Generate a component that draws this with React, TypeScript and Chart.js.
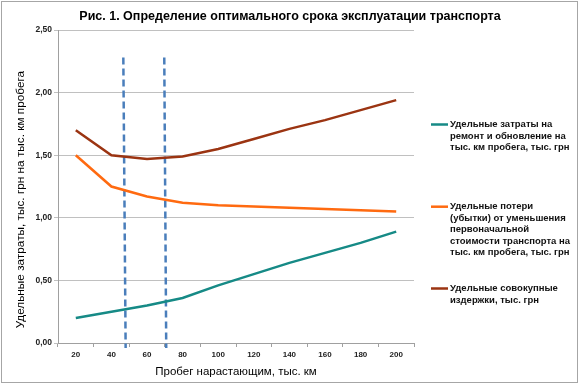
import React, { useEffect, useRef } from 'react';
import { Chart, registerables } from 'chart.js';

Chart.register(...registerables);

const categories = ['20', '40', '60', '80', '100', '120', '140', '160', '180', '200'];
const repairCost = [0.2, 0.25, 0.3, 0.36, 0.46, 0.55, 0.64, 0.72, 0.8, 0.89];
const valueLoss = [1.5, 1.25, 1.17, 1.12, 1.1, 1.09, 1.08, 1.07, 1.06, 1.05];
const totalCost = [1.7, 1.5, 1.47, 1.49, 1.55, 1.63, 1.71, 1.78, 1.86, 1.94];

const markerTopKm = [46.7, 69.7];
const markerBottomKm = [48.0, 70.8];
const markerTopValue = 2.28;
const markerBottomValue = -0.04;

const seriesLabels = [
  ['Удельные затраты на', 'ремонт и обновление на', 'тыс. км пробега, тыс. грн'],
  ['Удельные потери', '(убытки) от уменьшения', 'первоначальной', 'стоимости транспорта на', 'тыс. км пробега, тыс. грн'],
  ['Удельные совокупные', 'издержки, тыс. грн'],
];
const chartTitle = 'Рис. 1. Определение оптимального срока эксплуатации транспорта';
const xTitle = 'Пробег нарастающим, тыс. км';
const yTitle = 'Удельные затраты, тыс. грн на тыс. км пробега';

const seriesColors = ['#168a86', '#ff6a10', '#9b3412'];
const FONT = '"Liberation Sans", Arial, sans-serif';

const kmToIndex = (km: number) => (km - Number(categories[0])) / (Number(categories[1]) - Number(categories[0]));

const sideLegend = {
  id: 'sideLegend',
  afterDraw(chart: any) {
    const ctx = chart.ctx;
    const x0 = chart.chartArea.right + 17;
    const tops = [124.5, 206.7, 288.5];
    const lh = 11.4;
    ctx.save();
    ctx.font = `bold 9.5px ${FONT}`;
    ctx.textBaseline = 'middle';
    ctx.textAlign = 'left';
    ctx.fillStyle = '#111';
    for (let i = 0; i < seriesLabels.length; i++) {
      ctx.strokeStyle = seriesColors[i];
      ctx.lineWidth = 2.5;
      ctx.beginPath();
      ctx.moveTo(x0, tops[i]);
      ctx.lineTo(x0 + 17, tops[i]);
      ctx.stroke();
      seriesLabels[i].forEach((t, j) => ctx.fillText(t, x0 + 19, tops[i] + j * lh));
    }
    ctx.restore();
  },
};

export default function App() {
  const ref = useRef<HTMLCanvasElement>(null);
  useEffect(() => {
    if (!ref.current) return;
    const lineData = [repairCost, valueLoss, totalCost];
    const datasets: any[] = lineData.map((d, i) => ({
      type: 'line',
      label: seriesLabels[i].join(' '),
      data: d,
      borderColor: seriesColors[i],
      backgroundColor: seriesColors[i],
      borderWidth: 2.5,
      pointRadius: 0,
      tension: 0,
      xAxisID: 'x',
      yAxisID: 'y',
    }));
    markerTopKm.forEach((km, i) => {
      datasets.push({
        type: 'line',
        label: 'marker' + i,
        data: [
          { x: kmToIndex(km), y: markerTopValue },
          { x: kmToIndex(markerBottomKm[i]), y: markerBottomValue },
        ],
        borderColor: '#4a7ebb',
        borderWidth: 2.5,
        borderDash: [7, 4],
        pointRadius: 0,
        clip: false,
        xAxisID: 'xm',
        yAxisID: 'y',
      });
    });
    const chart = new Chart(ref.current, {
      type: 'line',
      data: { labels: categories, datasets },
      options: {
        animation: false,
        responsive: false,
        maintainAspectRatio: false,
        layout: { padding: 0 },
        plugins: {
          legend: { display: false },
          tooltip: { enabled: false },
          title: {
            display: true,
            text: chartTitle,
            color: '#000',
            font: { family: FONT, size: 12.5, weight: 'bold' },
            padding: { top: 9, bottom: 6 },
          },
        },
        scales: {
          x: {
            type: 'category',
            offset: true,
            grid: { offset: true, drawOnChartArea: false, tickLength: 4, color: '#a0a0a0' },
            border: { color: '#a0a0a0' },
            ticks: { font: { family: FONT, size: 8, weight: 'bold' }, color: '#222', padding: 3, maxRotation: 0, autoSkip: false },
            title: { display: true, text: xTitle, color: '#000', font: { family: FONT, size: 11.5 }, padding: { top: 2, bottom: 5 } },
            afterFit: (s: any) => { s.height = 41; },
          },
          xm: {
            type: 'linear',
            min: -0.5,
            max: 9.5,
            display: false,
          },
          y: {
            min: 0,
            max: 2.5,
            ticks: {
              stepSize: 0.5,
              font: { family: FONT, size: 8.5, weight: 'bold' },
              color: '#222',
              padding: 2,
              callback: (v: any) => Number(v).toFixed(2).replace('.', ','),
            },
            grid: { color: '#c0c0c0', tickLength: 4 },
            border: { color: '#a0a0a0' },
            title: { display: true, text: yTitle + '        ', color: '#000', font: { family: FONT, size: 11.8 }, padding: { top: 14, bottom: 0 } },
            afterFit: (s: any) => { s.width = 58; },
          },
          yr: {
            position: 'right',
            display: true,
            grid: { display: false },
            border: { display: false },
            ticks: { display: false },
            afterFit: (s: any) => { s.width = 166; },
          },
        },
      } as any,
      plugins: [sideLegend],
    });
    return () => chart.destroy();
  }, []);
  return (
    <div style={{ position: 'fixed', left: 0, top: 0, width: 580, height: 384, background: '#fff' }}>
      <canvas ref={ref} width={580} height={384} style={{ position: 'absolute', left: 0, top: 0, width: 580, height: 384 }} />
      <div style={{ position: 'absolute', left: 1, top: 1, width: 577, height: 382, border: '1px solid #a6a6a6', boxSizing: 'border-box', pointerEvents: 'none' }} />
    </div>
  );
}
